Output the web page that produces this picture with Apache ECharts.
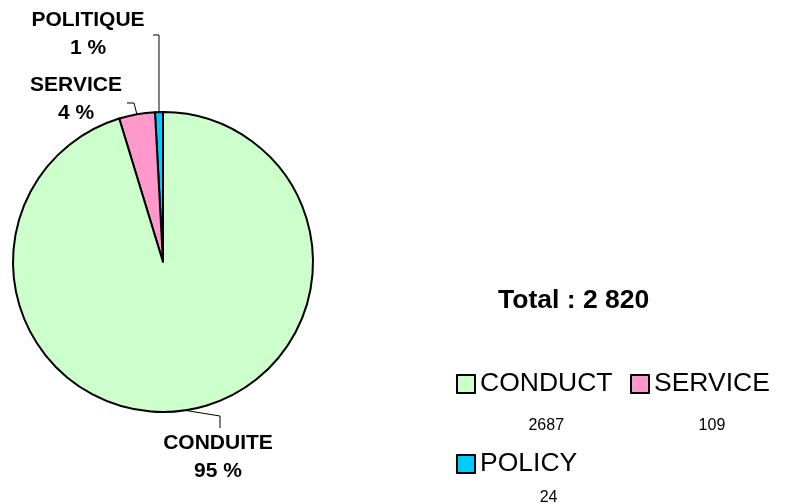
<!DOCTYPE html>
<html>
<head>
<meta charset="utf-8">
<script src="https://cdn.jsdelivr.net/npm/echarts@6/dist/echarts.min.js"></script>
<style>
  html, body { margin: 0; padding: 0; background: #fff; }
  #chart { width: 787px; height: 504px; }
</style>
</head>
<body>
<div id="chart"></div>
<script>
// data
const legendNames = ['CONDUCT', 'SERVICE', 'POLICY'];
const labelNames = ['CONDUITE', 'SERVICE', 'POLITIQUE'];
const counts = [2687, 109, 24];
const colors = ['#ccffcc', '#ff99cc', '#00ccff'];

const total = counts.reduce((a, b) => a + b, 0);
const totalText = 'Total : ' + String(total).replace(/\B(?=(\d{3})+(?!\d))/g, ' ');

// slices go counter-clockwise from 12 o'clock: policy, service, conduct
const order = [2, 1, 0];
const pieData = order.map(i => ({
  name: legendNames[i],
  value: counts[i],
  itemStyle: { color: colors[i] }
}));

// where each slice label sits (pieData order) and how its leader line bends
const labelSpots = [
  { x: 88, y: 34, line: a => [a, [a[0], 35], [153, 35]] },
  { x: 76, y: 99, line: a => [a, [134, 103], [127, 103]] },
  { x: 218, y: 457, line: a => [a, [220, 416], [220, 428]] }
];

// legend block: left, top, gap under the name for the count, count padding
const legendSpots = [
  [456, 337, 54, [0, 0, 0, 0]],
  [630, 337, 54, [0, 0, 0, 0]],
  [456, 427, 34, [4, 0, 0, 40]]
];

const chart = echarts.init(document.getElementById('chart'));

chart.setOption({
  backgroundColor: '#fff',
  animation: false,
  title: {
    text: totalText,
    left: 498,
    top: 287,
    padding: 0,
    textStyle: { fontFamily: 'Liberation Sans', fontWeight: 'bold', fontSize: 26.5, color: '#000' }
  },
  legend: legendNames.map((n, i) => ({
    data: [n],
    left: legendSpots[i][0],
    top: legendSpots[i][1],
    padding: 0,
    icon: 'rect',
    itemWidth: 18,
    itemHeight: 18,
    itemStyle: { borderColor: '#000', borderWidth: 2 },
    selectedMode: false,
    formatter: name => '{p| }\n{n|' + name + '}\n{v|' + counts[legendNames.indexOf(name)] + '}',
    textStyle: {
      fontFamily: 'Liberation Sans',
      color: '#000',
      rich: {
        p: { fontSize: 10, lineHeight: legendSpots[i][2] },
        n: { fontFamily: 'Liberation Sans', fontSize: 26.5, lineHeight: 30, color: '#000' },
        v: {
          fontFamily: 'Liberation Sans', fontSize: 16, lineHeight: legendSpots[i][2],
          color: '#000', align: 'center', padding: legendSpots[i][3]
        }
      }
    }
  })),
  series: [{
    type: 'pie',
    center: [163, 262],
    radius: 150,
    startAngle: 90,
    clockwise: false,
    avoidLabelOverlap: false,
    data: pieData,
    itemStyle: { borderColor: '#000', borderWidth: 2 },
    label: {
      show: true,
      position: 'outside',
      formatter: p => labelNames[legendNames.indexOf(p.name)] + '\n' + Math.round(p.percent) + ' %',
      fontFamily: 'Liberation Sans',
      fontWeight: 'bold',
      fontSize: 21,
      lineHeight: 28,
      color: '#000',
      align: 'center'
    },
    labelLine: {
      show: true,
      length: 10,
      length2: 10,
      lineStyle: { color: '#000', width: 1 }
    },
    labelLayout: params => {
      const s = labelSpots[params.dataIndex];
      const a = params.labelLinePoints ? params.labelLinePoints[0] : [0, 0];
      return {
        x: s.x,
        y: s.y,
        align: 'center',
        verticalAlign: 'middle',
        labelLinePoints: s.line(a)
      };
    },
    emphasis: { disabled: true }
  }]
});
</script>
</body>
</html>
